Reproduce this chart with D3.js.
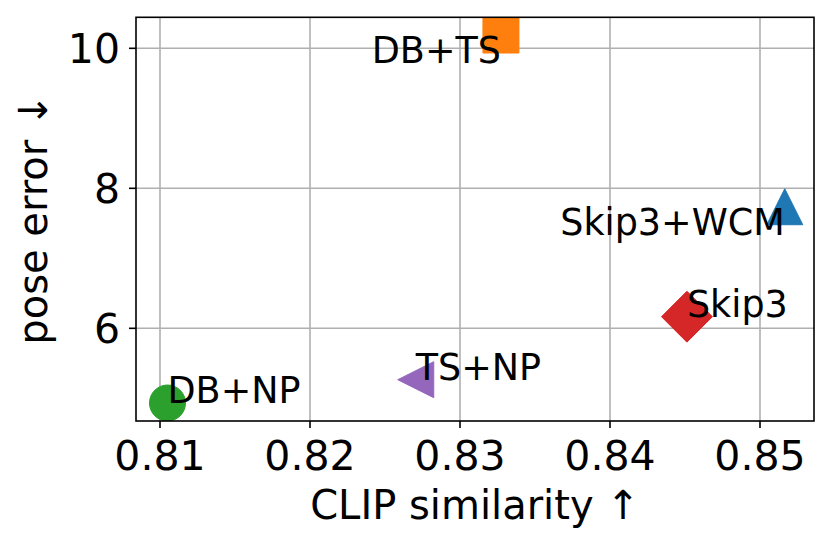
<!DOCTYPE html>
<html><head><meta charset="utf-8">
<script src="https://cdn.jsdelivr.net/npm/d3@7/dist/d3.min.js"></script>
<style>html,body{margin:0;padding:0;background:#fff;} svg{display:block;} text{font-family:"DejaVu Sans",sans-serif;}</style>
</head><body>
<svg id="chart" width="832" height="546"></svg>
<script>
const methods = ["DB+NP", "TS+NP", "DB+TS", "Skip3", "Skip3+WCM"];
const clipSim = [0.8105, 0.82705, 0.83273, 0.84513, 0.85165];
const poseErr = [4.933, 5.266, 10.19, 6.166, 7.737];
const markerKinds = ["circle", "triLeft", "square", "diamond", "triUp"];
const colors = ["#2ca02c", "#9467bd", "#ff7f0e", "#d62728", "#1f77b4"];
const labelAlign = ["left", "left", "rightBelow", "left", "rightBelow"];
const xTicks = [0.81, 0.82, 0.83, 0.84, 0.85];
const xTickLabels = ["0.81", "0.82", "0.83", "0.84", "0.85"];
const yTicks = [6, 8, 10];
const yTickLabels = ["6", "8", "10"];
const xDomain = [0.8084, 0.8536];
const yDomain = [4.676, 10.443];

const svg = d3.select("#chart");
svg.append("rect").attr("width", 832).attr("height", 546).attr("fill", "#fff");
const L = 136, R = 814, T = 17.3, B = 421;
const x = d3.scaleLinear().domain(xDomain).range([L, R]);
const y = d3.scaleLinear().domain(yDomain).range([B, T]);

svg.append("defs").append("clipPath").attr("id", "clip")
  .append("rect").attr("x", L).attr("y", T).attr("width", R - L).attr("height", B - T);

// grid
const grid = svg.append("g");
xTicks.forEach(t => grid.append("line").attr("x1", x(t)).attr("x2", x(t)).attr("y1", T).attr("y2", B)
  .attr("stroke", "#b0b0b0").attr("stroke-width", 1.6));
yTicks.forEach(t => grid.append("line").attr("x1", L).attr("x2", R).attr("y1", y(t)).attr("y2", y(t))
  .attr("stroke", "#b0b0b0").attr("stroke-width", 1.6));

// markers
const S = 36;
function markerPath(kind) {
  const h = S / 2;
  switch (kind) {
    case "circle": return d3.symbol().type(d3.symbolCircle).size(Math.PI * h * h)();
    case "square": return `M${-h},${-h}L${h},${-h}L${h},${h}L${-h},${h}Z`;
    case "diamond": { const d = h * Math.SQRT2; return `M0,${-d}L${d},0L0,${d}L${-d},0Z`; }
    case "triUp": return `M0,${-h}L${h},${h}L${-h},${h}Z`;
    case "triLeft": return `M${-h},0L${h},${-h}L${h},${h}Z`;
  }
}
const marks = svg.append("g").attr("clip-path", "url(#clip)");
methods.forEach((m, i) => {
  marks.append("path").attr("d", markerPath(markerKinds[i]))
    .attr("transform", `translate(${x(clipSim[i])},${y(poseErr[i])})`)
    .attr("fill", colors[i]).attr("stroke", colors[i]).attr("stroke-width", 1);
});

// spines
svg.append("rect").attr("x", L).attr("y", T).attr("width", R - L).attr("height", B - T)
  .attr("fill", "none").attr("stroke", "#000").attr("stroke-width", 1.6);

// ticks
const ax = svg.append("g");
xTicks.forEach((t, i) => {
  ax.append("line").attr("x1", x(t)).attr("x2", x(t)).attr("y1", B).attr("y2", B + 7)
    .attr("stroke", "#000").attr("stroke-width", 1.6);
  ax.append("text").attr("x", x(t)).attr("y", 470).attr("text-anchor", "middle")
    .attr("font-size", 41).text(xTickLabels[i]);
});
yTicks.forEach((t, i) => {
  ax.append("line").attr("x1", L - 7).attr("x2", L).attr("y1", y(t)).attr("y2", y(t))
    .attr("stroke", "#000").attr("stroke-width", 1.6);
  ax.append("text").attr("x", 120).attr("y", y(t) + 15).attr("text-anchor", "end")
    .attr("font-size", 41).text(yTickLabels[i]);
});

// axis labels
svg.append("text").attr("x", (L + R) / 2).attr("y", 519).attr("text-anchor", "middle")
  .attr("font-size", 40).text("CLIP similarity \u2191");
svg.append("text").attr("transform", `translate(47,${(T + B) / 2}) rotate(-90)`)
  .attr("text-anchor", "middle").attr("font-size", 40).text("pose error \u2193");

// annotations
methods.forEach((m, i) => {
  const t = svg.append("text").attr("font-size", 36.5).text(m);
  if (labelAlign[i] === "left") {
    t.attr("x", x(clipSim[i])).attr("y", y(poseErr[i])).attr("text-anchor", "start");
  } else {
    t.attr("x", x(clipSim[i])).attr("y", y(poseErr[i]) + 28).attr("text-anchor", "end");
  }
});
</script>
</body></html>
